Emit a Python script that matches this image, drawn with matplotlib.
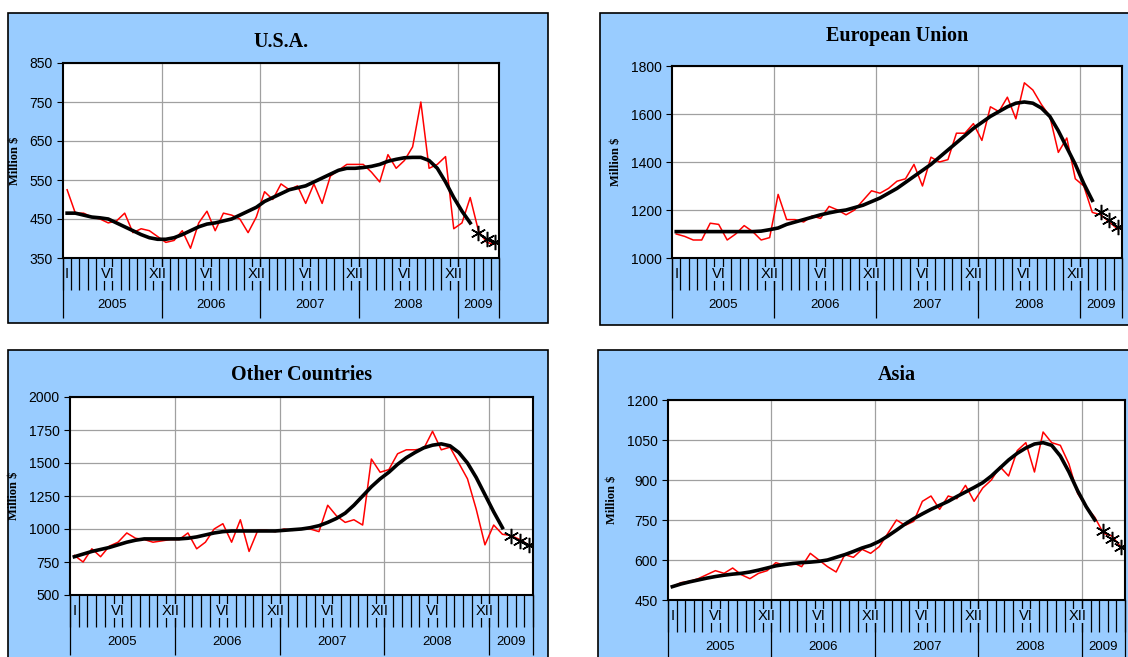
import matplotlib
matplotlib.use("Agg")
import matplotlib.pyplot as plt
from matplotlib.patches import Rectangle

W, H = 1128, 657
YEARS = ["2005", "2006", "2007", "2008", "2009"]
MONTH_LABELS = {0: "I", 5: "VI", 11: "XII", 17: "VI", 23: "XII", 29: "VI",
                35: "XII", 41: "VI", 47: "XII"}

usa_red = [525, 465, 465, 455, 450, 440, 445, 465, 415, 425, 420, 405, 390, 395,
           420, 375, 440, 470, 420, 465, 460, 450, 415, 455, 520, 500, 540, 525,
           535, 490, 540, 490, 560, 575, 590, 590, 590, 570, 545, 615, 580, 600,
           635, 750, 580, 590, 610, 425, 440, 505, 420, 390, 385]
usa_trend = [465, 465, 460, 455, 453, 450, 440, 430, 420, 410, 402, 398, 398, 402,
             410, 420, 430, 437, 440, 445, 450, 460, 470, 480, 495, 505, 515, 525,
             530, 535, 545, 555, 565, 575, 580, 580, 582, 585, 590, 598, 603, 607,
             608, 608, 600, 580, 545, 505, 470, 440]
usa_fcst = [415, 400, 390]

eu_red = [1100, 1090, 1075, 1075, 1145, 1140, 1075, 1100, 1135, 1110, 1075, 1085,
          1265, 1160, 1160, 1150, 1175, 1165, 1215, 1200, 1180, 1200, 1240, 1280,
          1270, 1290, 1320, 1330, 1390, 1300, 1420, 1400, 1410, 1520, 1520, 1560,
          1490, 1630, 1610, 1670, 1580, 1730, 1700, 1640, 1590, 1440, 1500, 1330,
          1300, 1190, 1180, 1150, 1120]
eu_trend = [1110, 1110, 1110, 1110, 1110, 1110, 1110, 1110, 1110, 1110, 1112, 1118,
            1125, 1140, 1150, 1160, 1170, 1180, 1188, 1195, 1200, 1210, 1220, 1235,
            1250, 1270, 1290, 1315, 1340, 1365, 1390, 1420, 1450, 1480, 1510, 1540,
            1565, 1590, 1610, 1630, 1645, 1650, 1645, 1625, 1590, 1530, 1460, 1390,
            1310, 1240]
eu_fcst = [1190, 1160, 1130]

oth_red = [800, 750, 850, 790, 870, 900, 970, 930, 920, 900, 910, 920, 920, 970,
           850, 900, 1000, 1040, 900, 1070, 830, 990, 990, 980, 1000, 990, 1000,
           1000, 980, 1180, 1100, 1050, 1070, 1030, 1530, 1430, 1450, 1570, 1600,
           1600, 1610, 1740, 1600, 1620, 1500, 1380, 1150, 880, 1030, 960, 950,
           920, 880]
oth_trend = [790, 810, 830, 845, 860, 880, 900, 915, 925, 925, 925, 925, 925, 930,
             940, 955, 970, 980, 985, 985, 985, 985, 985, 985, 990, 995, 1000, 1010,
             1025, 1050, 1080, 1120, 1180, 1250, 1320, 1380, 1430, 1490, 1540, 1580,
             1615, 1635, 1645, 1630, 1580, 1500, 1390, 1260, 1130, 1010]
oth_fcst = [950, 910, 880]

asia_red = [500, 515, 520, 530, 545, 560, 550, 570, 545, 530, 550, 560, 590, 580,
            590, 575, 625, 600, 575, 555, 620, 610, 640, 625, 650, 700, 750, 730,
            745, 820, 840, 790, 840, 830, 880, 820, 870, 900, 950, 915, 1010, 1040,
            930, 1080, 1040, 1030, 960, 850, 800, 760, 700, 690, 650]
asia_trend = [500, 510, 518, 525, 532, 538, 543, 547, 550, 555, 562, 570, 578, 583,
              587, 590, 592, 595, 600, 610, 620, 632, 645, 655, 670, 690, 712, 735,
              755, 773, 790, 805, 820, 838, 855, 872, 890, 915, 945, 975, 1000, 1020,
              1035, 1040, 1030, 990, 930, 860, 800, 750]
asia_fcst = [710, 680, 650]

BLUE = "#99CCFF"
fig = plt.figure(figsize=(W / 100, H / 100), dpi=100)


def box(x0, y0, x1, y1):
    fig.add_artist(Rectangle((x0 / W, 1 - y1 / H), (x1 - x0) / W, (y1 - y0) / H,
                             transform=fig.transFigure, facecolor=BLUE,
                             edgecolor="black", lw=1.2, zorder=0))


def panel(frame, axbox, title, red, trend, fcst, ylim, yticks, title_y):
    box(*frame)
    x0, y0, x1, y1 = axbox
    ax = fig.add_axes([x0 / W, 1 - y1 / H, (x1 - x0) / W, (y1 - y0) / H])
    n = len(red)
    xs = [i + 0.5 for i in range(n)]
    ax.plot(xs, red, color="red", lw=1.1, zorder=3)
    ax.plot(xs[:len(trend)], trend, color="black", lw=2.6, zorder=4)
    ax.plot(xs[n - len(fcst):], fcst, ls="none", marker=(6, 2, 0), ms=11,
            mew=1.1, color="black", zorder=5)
    ax.set_xlim(0, n)
    ax.set_ylim(*ylim)
    ax.set_yticks(yticks)
    ax.set_xticks([12, 24, 36, 48])
    ax.tick_params(axis="x", length=0, labelbottom=False)
    ax.tick_params(axis="y", labelsize=10, length=4)
    for lab in ax.get_yticklabels():
        lab.set_family("Liberation Sans")
    ax.grid(True, color="#a0a0a0", lw=0.9)
    for s in ax.spines.values():
        s.set_linewidth(1.5)
    tr = ax.get_xaxis_transform()
    h = (y1 - y0)
    mt = 32 / h
    yt = 60 / h
    ax.vlines(range(0, n + 1), -mt, 0, color="black", lw=0.9,
              transform=tr, clip_on=False)
    ax.vlines([0, 12, 24, 36, 48, n], -yt, 0, color="black", lw=0.9,
              transform=tr, clip_on=False)
    for i, lab in MONTH_LABELS.items():
        ax.text(i + 0.5, -mt / 2, lab, transform=tr, ha="center", va="center",
                fontsize=10.5, family="Liberation Sans",
                bbox=dict(facecolor=BLUE, edgecolor="none", pad=0.3))
    bounds = [0, 12, 24, 36, 48, n]
    for k, yr in enumerate(YEARS):
        ax.text((bounds[k] + bounds[k + 1]) / 2, -(mt + yt) / 2 - 0.005, yr,
                transform=tr, ha="center", va="center", fontsize=9.5,
                family="Liberation Sans")
    fig.text((x0 + x1) / 2 / W, 1 - title_y / H, title, ha="center", va="center",
             fontsize=14.5, fontweight="bold", family="Liberation Serif")
    ax.set_ylabel("Million $", fontsize=9, fontweight="bold",
                  family="Liberation Serif", labelpad=6)


panel((8, 13, 548, 323), (63, 63, 499, 258), "U.S.A.", usa_red, usa_trend,
      usa_fcst, (350, 850), range(350, 851, 100), 42)
panel((600, 13, 1140, 325), (672, 66, 1122, 258), "European Union", eu_red,
      eu_trend, eu_fcst, (1000, 1800), range(1000, 1801, 200), 36)
panel((8, 350, 548, 670), (70, 397, 533, 595), "Other Countries", oth_red,
      oth_trend, oth_fcst, (500, 2000), range(500, 2001, 250), 375)
panel((598, 350, 1140, 670), (668, 400, 1125, 600), "Asia", asia_red,
      asia_trend, asia_fcst, (450, 1200), range(450, 1201, 150), 375)

fig.savefig("out.png", dpi=100)
